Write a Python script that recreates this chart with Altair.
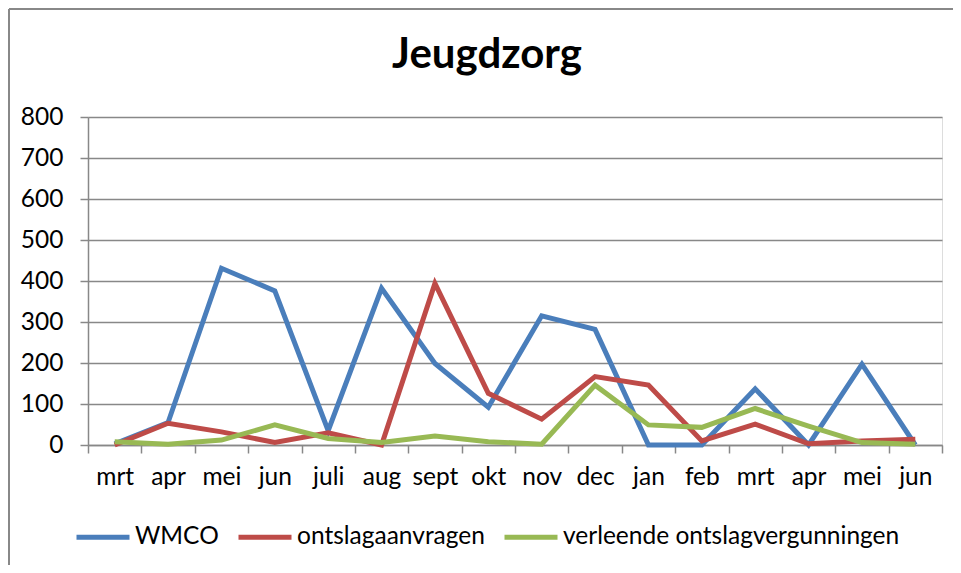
import altair as alt
import pandas as pd

months = ["mrt", "apr", "mei", "jun", "juli", "aug", "sept", "okt", "nov",
          "dec", "jan", "feb", "mrt", "apr", "mei", "jun"]
series_names = ["WMCO", "ontslagaanvragen", "verleende ontslagvergunningen"]
wmco = [3, 55, 431, 376, 35, 382, 199, 92, 315, 282, 0, 0, 137, 0, 197, 0]
aanvragen = [0, 53, 32, 6, 30, 0, 394, 126, 63, 167, 146, 10, 51, 3, 10, 14]
verleend = [8, 2, 12, 49, 16, 6, 22, 8, 2, 146, 49, 43, 89, 46, 6, 2]
colors = ["#4A7EBB", "#BE4B48", "#98B954"]

rows = []
for name, vals in zip(series_names, [wmco, aanvragen, verleend]):
    for i, v in enumerate(vals):
        rows.append({"idx": i, "series": name, "value": v})
df = pd.DataFrame(rows)

label_expr = "[" + ",".join(f"'{m}'" for m in months) + "][datum.value]"

FONT = "Lato"
FS = 24.5

lines = alt.Chart(df).mark_line(strokeWidth=5, strokeJoin="miter").encode(
    x=alt.X("idx:O",
            scale=alt.Scale(type="band", paddingInner=0, paddingOuter=0),
            axis=alt.Axis(title=None, labelExpr=label_expr, labelAngle=0,
                          tickBand="extent", grid=False, domainColor="#888888",
                          domainWidth=1.5, tickColor="#888888", tickWidth=1.5,
                          tickSize=8, labelPadding=12, labelFontSize=FS,
                          labelFont=FONT, labelColor="#000000")),
    y=alt.Y("value:Q",
            scale=alt.Scale(domain=[0, 800], nice=False),
            axis=alt.Axis(title=None, values=list(range(0, 801, 100)),
                          grid=True, gridColor="#888888", gridWidth=1.5,
                          domainColor="#888888", domainWidth=1.5,
                          tickColor="#888888", tickWidth=1.5, tickSize=8,
                          labelPadding=17, labelFontSize=FS, labelFont=FONT,
                          labelColor="#000000")),
    color=alt.Color("series:N",
                    scale=alt.Scale(domain=series_names, range=colors),
                    sort=series_names,
                    legend=alt.Legend(title=None, orient="none",
                                      direction="horizontal",
                                      legendX=-14, legendY=391,
                                      symbolType="stroke",
                                      symbolStrokeWidth=5,
                                      symbolSize=2809,
                                      labelOffset=3, columnPadding=9,
                                      labelFontSize=FS, labelFont=FONT,
                                      labelColor="#000000",
                                      labelLimit=500)),
    detail="series:N",
)

frame = alt.Chart(pd.DataFrame({"a": [0]})).mark_rule(
    color="#888888", strokeWidth=2).encode(
    x=alt.value(-79), x2=alt.value(-79), y=alt.value(-108), y2=alt.value(460))
frame_top = alt.Chart(pd.DataFrame({"a": [0]})).mark_rule(
    color="#888888", strokeWidth=2).encode(
    x=alt.value(-79), x2=alt.value(880), y=alt.value(-108), y2=alt.value(-108))

chart = alt.layer(frame, frame_top, lines).properties(
    width=854, height=328,
    title=alt.TitleParams("Jeugdzorg", font=FONT, fontSize=42,
                          fontWeight="bold", color="#000000",
                          anchor="middle", dx=-28, offset=-102,
                          baseline="alphabetic"),
    autosize=alt.AutoSizeParams(type="none"),
    padding={"left": 80, "top": 109, "right": 11, "bottom": 120},
).configure_view(stroke=None).configure(background="white")

chart.save("out.html", embed_options={"renderer": "svg", "actions": False})
